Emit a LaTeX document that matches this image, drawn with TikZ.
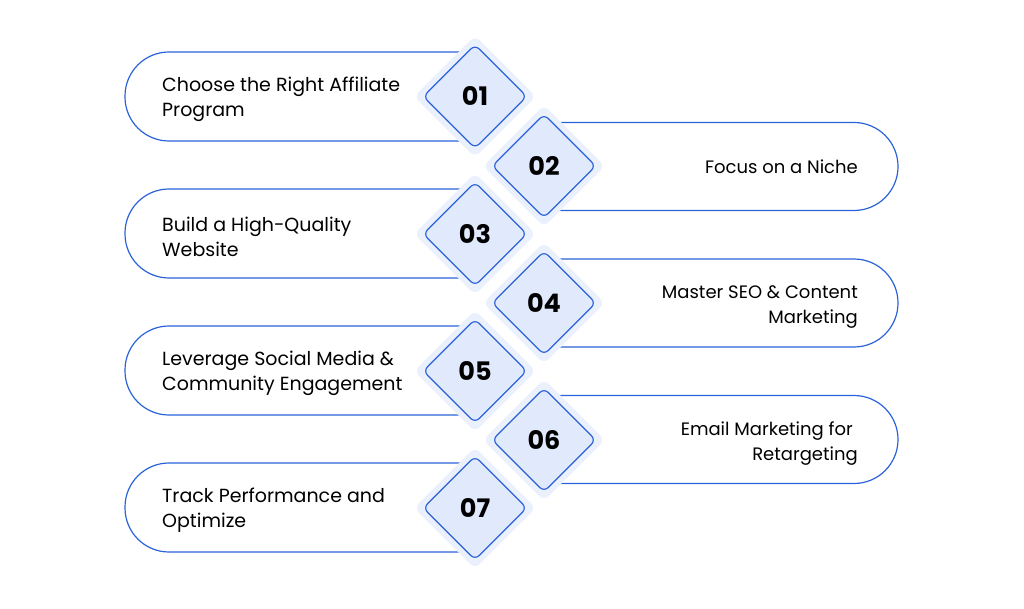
\documentclass[tikz,border=0pt]{standalone}
\usepackage{fontspec}
\setmainfont{Poppins}
\usetikzlibrary{shapes.geometric}
\definecolor{pillblue}{HTML}{2A62D9}
\definecolor{stepfill}{HTML}{E1E9FC}
\definecolor{halofill}{HTML}{EBF0FD}
\tikzset{
  pill/.style={draw=pillblue,line width=1.2pt,rounded corners=44pt},
  halo/.style={diamond,fill=halofill,minimum width=122pt,minimum height=122pt,inner sep=0pt,rounded corners=7pt},
  stepnum/.style={diamond,draw=pillblue,line width=1.2pt,fill=stepfill,minimum width=104pt,minimum height=104pt,inner sep=0pt,rounded corners=6pt,font=\fontsize{25.5}{30}\selectfont\bfseries},
  lefttext/.style={anchor=west,align=left,inner sep=0pt,yshift=-3pt,font=\fontsize{19}{25}\selectfont},
  righttext/.style={anchor=east,align=right,inner sep=0pt,font=\fontsize{18}{24.5}\selectfont},
  twoline/.style={yshift=-4pt}
}
\begin{document}
\begin{tikzpicture}[x=1pt,y=-1pt]
\useasboundingbox (0,0) rectangle (1024,609);
%left pills
\foreach \i/\y/\txt in {1/96.5/{Choose the Right Affiliate\\Program},
  3/233.5/{Build a High-Quality\\Website},
  5/370.5/{Leverage Social Media \&\\Community Engagement},
  7/507.5/{Track Performance and\\Optimize}}{
  \draw[pill] (475,\y-44.5) -| (125,\y+44.5) -- (475,\y+44.5);
  \node[lefttext] (t\i) at (162,\y) {\txt};
}
%right pills
\foreach \i/\y/\opt/\txt in {2/166.5/{}/{Focus on a Niche},
  4/303/twoline/{Master SEO \& Content\\Marketing},
  6/439.5/twoline/{Email Marketing for\hspace*{5pt}\\Retargeting}}{
  \draw[pill] (544,\y-44) -| (898,\y+44) -- (544,\y+44);
  \node[righttext,\opt] (t\i) at (858,\y) {\txt};
}
%diamonds
\foreach \i/\x/\y in {1/475/96.5, 2/544/166, 3/475/234, 4/544/303, 5/475/371, 6/544/440, 7/475/508}{
  \node[halo] (h\i) at (\x,\y) {};
  \node[stepnum] (d\i) at (\x,\y) {0\i};
}
\end{tikzpicture}
\end{document}
